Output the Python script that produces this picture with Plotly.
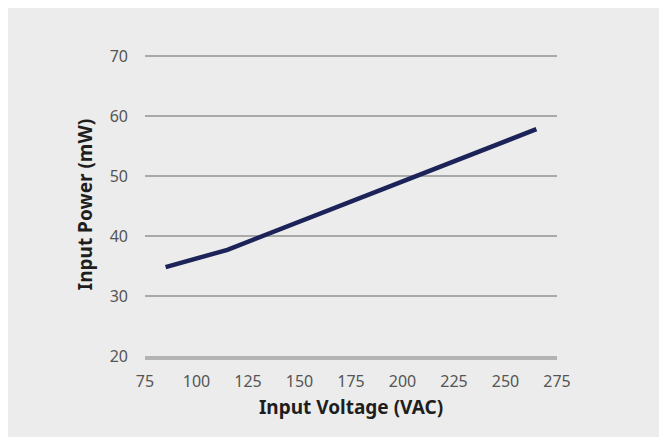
import plotly.graph_objects as go

voltage = [85, 115, 265]
power = [34.8, 37.7, 57.8]

x_ticks = [75, 100, 125, 150, 175, 200, 225, 250, 275]
y_ticks = [20, 30, 40, 50, 60, 70]

fig = go.Figure()

fig.add_trace(
    go.Scatter(
        x=voltage,
        y=power,
        mode='lines',
        line=dict(width=4.5, color='#1b2359'),
        showlegend=False,
        hoverinfo='skip',
    )
)

# page body adds ~8px offset, margins compensate for that
# y range goes a bit past 70 so the top gridline is still drawn
fig.update_layout(
    width=667,
    height=437,
    margin=dict(l=137, r=118, t=45, b=89),
    paper_bgcolor='#ececec',
    plot_bgcolor='#ececec',
    font=dict(family='Noto Sans', size=16, color='#555555'),
    xaxis=dict(
        range=[75, 275],
        tickvals=x_ticks,
        showgrid=False,
        zeroline=False,
        showline=True,
        linecolor='#b3b3b3',
        linewidth=4,
        ticks='',
        ticklabelstandoff=8,
        title=dict(
            text='<b>Input Voltage (VAC)</b>',
            font=dict(size=19, color='#1e1e1e'),
            standoff=10,
        ),
    ),
    yaxis=dict(
        range=[20, 70.5],
        tickvals=y_ticks,
        showgrid=True,
        gridcolor='#a9a9a9',
        gridwidth=2,
        zeroline=False,
        showline=False,
        ticks='',
        ticklabelstandoff=16,
        title=dict(
            text='<b>Input Power (mW)</b>',
            font=dict(size=19, color='#1e1e1e'),
            standoff=12,
        ),
    ),
)

fig.write_html("out.html")
